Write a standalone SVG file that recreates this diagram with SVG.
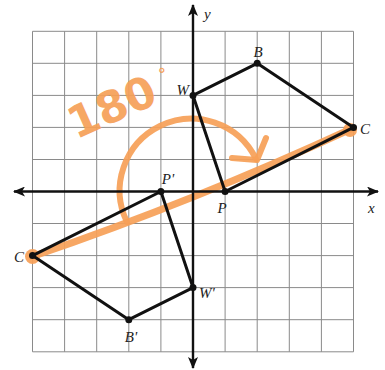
<svg xmlns="http://www.w3.org/2000/svg" width="385" height="370" viewBox="0 0 385 370">
<style>
.grid line{stroke:#8a8a8a;stroke-width:1}
.axis{stroke:#111;stroke-width:2.4;fill:none}
.poly{stroke:#111;stroke-width:3;fill:none;stroke-linejoin:round}
.dot{fill:#111}
.lbl{font-family:"Liberation Serif","DejaVu Serif",serif;font-style:italic;font-size:15px;fill:#222}
.or{stroke:#F6A057;fill:none;stroke-linecap:round;stroke-linejoin:round;opacity:0.92}
.ortext{font-family:"DejaVu Sans",sans-serif;font-weight:bold;font-size:44px;fill:#F6A057;opacity:0.92}
</style>
<defs>
<marker id="ah" viewBox="0 0 12 10" refX="11" refY="5" markerWidth="12" markerHeight="10" markerUnits="userSpaceOnUse" orient="auto-start-reverse">
<path d="M0,0 L12,5 L0,10 L3,5 Z" fill="#111"/>
</marker>
</defs>
<g id="grid" class="grid">
<line x1="32.5" y1="31.3" x2="32.5" y2="351.8"/>
<line x1="64.6" y1="31.3" x2="64.6" y2="351.8"/>
<line x1="96.7" y1="31.3" x2="96.7" y2="351.8"/>
<line x1="128.8" y1="31.3" x2="128.8" y2="351.8"/>
<line x1="160.9" y1="31.3" x2="160.9" y2="351.8"/>
<line x1="225.1" y1="31.3" x2="225.1" y2="351.8"/>
<line x1="257.2" y1="31.3" x2="257.2" y2="351.8"/>
<line x1="289.3" y1="31.3" x2="289.3" y2="351.8"/>
<line x1="321.4" y1="31.3" x2="321.4" y2="351.8"/>
<line x1="353.5" y1="31.3" x2="353.5" y2="351.8"/>
<line x1="32.5" y1="31.3" x2="353.5" y2="31.3"/>
<line x1="32.5" y1="63.3" x2="353.5" y2="63.3"/>
<line x1="32.5" y1="95.4" x2="353.5" y2="95.4"/>
<line x1="32.5" y1="127.4" x2="353.5" y2="127.4"/>
<line x1="32.5" y1="159.5" x2="353.5" y2="159.5"/>
<line x1="32.5" y1="223.5" x2="353.5" y2="223.5"/>
<line x1="32.5" y1="255.6" x2="353.5" y2="255.6"/>
<line x1="32.5" y1="287.6" x2="353.5" y2="287.6"/>
<line x1="32.5" y1="319.7" x2="353.5" y2="319.7"/>
<line x1="32.5" y1="351.8" x2="353.5" y2="351.8"/>
</g>
<g id="annotation">
<path class="or" stroke-width="7" d="M32.5,256.5 Q195,201 352,128.5"/>
<circle cx="32.5" cy="256.5" r="7.5" fill="#F6A057" opacity="0.92"/>
<circle cx="350" cy="130" r="7" fill="#F6A057" opacity="0.92"/>
<path class="or" stroke-width="6" d="M127,222 A70,70 0 0 1 256,159"/>
<path class="or" stroke-width="6" d="M266,138 L257,160 L232,158"/>
<text class="ortext" transform="translate(112,106) rotate(-24)" x="-46.5" y="16">180<tspan x="56" y="-3" font-size="16">°</tspan></text>
</g>
<g id="axes">
<line class="axis" x1="14" y1="191.5" x2="378" y2="191.5" marker-start="url(#ah)" marker-end="url(#ah)"/>
<line class="axis" x1="193" y1="5" x2="193" y2="368" marker-start="url(#ah)" marker-end="url(#ah)"/>
<text class="lbl" x="204" y="19">y</text>
<text class="lbl" x="368" y="213">x</text>
</g>
<g id="connectors">
<polygon class="poly" points="193,95.4 257.2,63.3 353.5,127.4 225.1,191.5"/>
<polygon class="poly" points="193,287.6 128.8,319.7 32.5,255.6 160.9,191.5"/>
</g>
<g id="node-W"><circle class="dot" cx="193" cy="95.4" r="3.5"/><text class="lbl" x="189" y="95" text-anchor="end">W</text></g>
<g id="node-B"><circle class="dot" cx="257.2" cy="63.3" r="3.5"/><text class="lbl" x="258" y="57" text-anchor="middle">B</text></g>
<g id="node-C"><circle class="dot" cx="353.5" cy="127.4" r="3.5"/><text class="lbl" x="360" y="134">C</text></g>
<g id="node-P"><circle class="dot" cx="225.1" cy="191.5" r="3.5"/><text class="lbl" x="222" y="213" text-anchor="middle">P</text></g>
<g id="node-P2"><circle class="dot" cx="160.9" cy="191.5" r="3.5"/><text class="lbl" x="168" y="184" text-anchor="middle">P'</text></g>
<g id="node-W2"><circle class="dot" cx="193" cy="287.6" r="3.5"/><text class="lbl" x="199" y="298" font-size="12" fill="#555">W'</text></g>
<g id="node-B2"><circle class="dot" cx="128.8" cy="319.7" r="3.5"/><text class="lbl" x="131" y="342" text-anchor="middle">B'</text></g>
<g id="node-C2"><circle class="dot" cx="32.5" cy="255.6" r="3.5"/><text class="lbl" x="24" y="262" text-anchor="end">C</text></g>
</svg>
